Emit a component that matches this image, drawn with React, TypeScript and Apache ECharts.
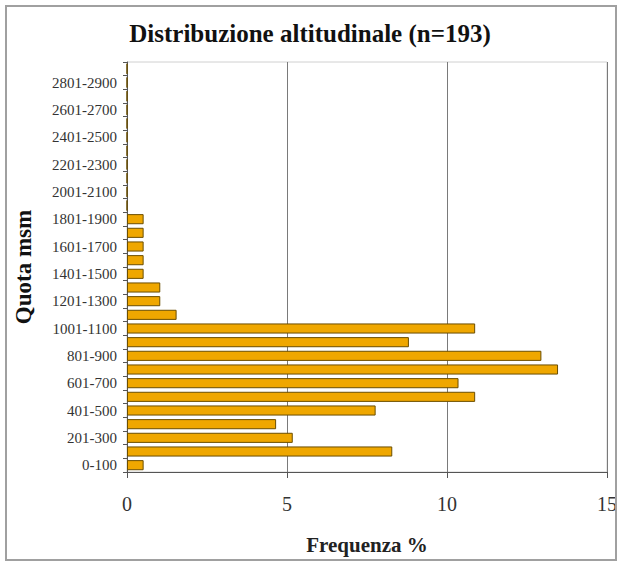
import React, { useEffect, useRef } from "react";
import * as echarts from "echarts";

const categories = [
  "0-100", "101-200", "201-300", "301-400", "401-500", "501-600", "601-700", "701-800",
  "801-900", "901-1000", "1001-1100", "1101-1200", "1201-1300", "1301-1400", "1401-1500",
  "1501-1600", "1601-1700", "1701-1800", "1801-1900", "1901-2000", "2001-2100", "2101-2200",
  "2201-2300", "2301-2400", "2401-2500", "2501-2600", "2601-2700", "2701-2800", "2801-2900",
  "2901-3000",
];
const frequenze = [
  0.52, 8.29, 5.18, 4.66, 7.77, 10.88, 10.36, 13.47, 12.95, 8.81, 10.88, 1.55, 1.04, 1.04,
  0.52, 0.52, 0.52, 0.52, 0.52, 0, 0, 0, 0, 0, 0, 0, 0, 0, 0, 0,
];
const xTicks = { min: 0, max: 15, interval: 5 };

const FONT = "'Liberation Serif', 'Times New Roman', serif";

export default function App() {
  const ref = useRef<HTMLDivElement>(null);
  useEffect(() => {
    if (!ref.current) return;
    const chart = echarts.init(ref.current, null, { renderer: "svg" });
    chart.setOption({
      animation: false,
      backgroundColor: "#fff",
      title: {
        text: "Distribuzione altitudinale (n=193)",
        left: "center",
        top: 16,
        textStyle: { fontFamily: FONT, fontSize: 25, fontWeight: "bold", color: "#111" },
      },
      grid: {
        left: 127,
        right: 10,
        top: 62,
        bottom: 94,
        show: true,
        borderColor: "#d0d0d0",
        borderWidth: 1,
        backgroundColor: "transparent",
      },
      xAxis: {
        type: "value",
        min: xTicks.min,
        max: xTicks.max,
        interval: xTicks.interval,
        name: "Frequenza %",
        nameLocation: "middle",
        nameGap: 62,
        nameTextStyle: { fontFamily: FONT, fontSize: 21, fontWeight: "bold", color: "#222" },
        axisLine: { show: true, lineStyle: { color: "#555", width: 1 } },
        axisTick: { show: true, length: 6, lineStyle: { color: "#555" } },
        axisLabel: { fontFamily: FONT, fontSize: 20, color: "#333", margin: 22 },
        splitLine: { show: true, lineStyle: { color: "#7a7a7a", width: 1 } },
      },
      yAxis: {
        type: "category",
        data: categories,
        name: "Quota msm",
        nameLocation: "middle",
        nameGap: 92,
        nameRotate: 90,
        nameTextStyle: { fontFamily: FONT, fontSize: 23, fontWeight: "bold", color: "#111" },
        axisLine: { show: true, lineStyle: { color: "#555", width: 1 } },
        axisTick: { show: true, length: 4, interval: 0, lineStyle: { color: "#555" } },
        axisLabel: { interval: 1, fontFamily: FONT, fontSize: 15, color: "#333", margin: 10 },
        splitLine: { show: false },
      },
      series: [
        {
          type: "bar",
          data: frequenze,
          barCategoryGap: "26%",
          itemStyle: { color: "#EFA700", borderColor: "#6b4e00", borderWidth: 1 },
        },
      ],
    });
    return () => chart.dispose();
  }, []);
  return (
    <div style={{ position: "absolute", left: 0, top: 0, width: 620, height: 566, overflow: "hidden" }}>
      <div ref={ref} style={{ position: "absolute", left: 0, top: 0, width: 620, height: 566 }} />
      <div
        style={{
          position: "absolute",
          left: 5,
          top: 5,
          width: 608,
          height: 552,
          border: "2px solid #a0a0a0",
          pointerEvents: "none",
        }}
      />
    </div>
  );
}
